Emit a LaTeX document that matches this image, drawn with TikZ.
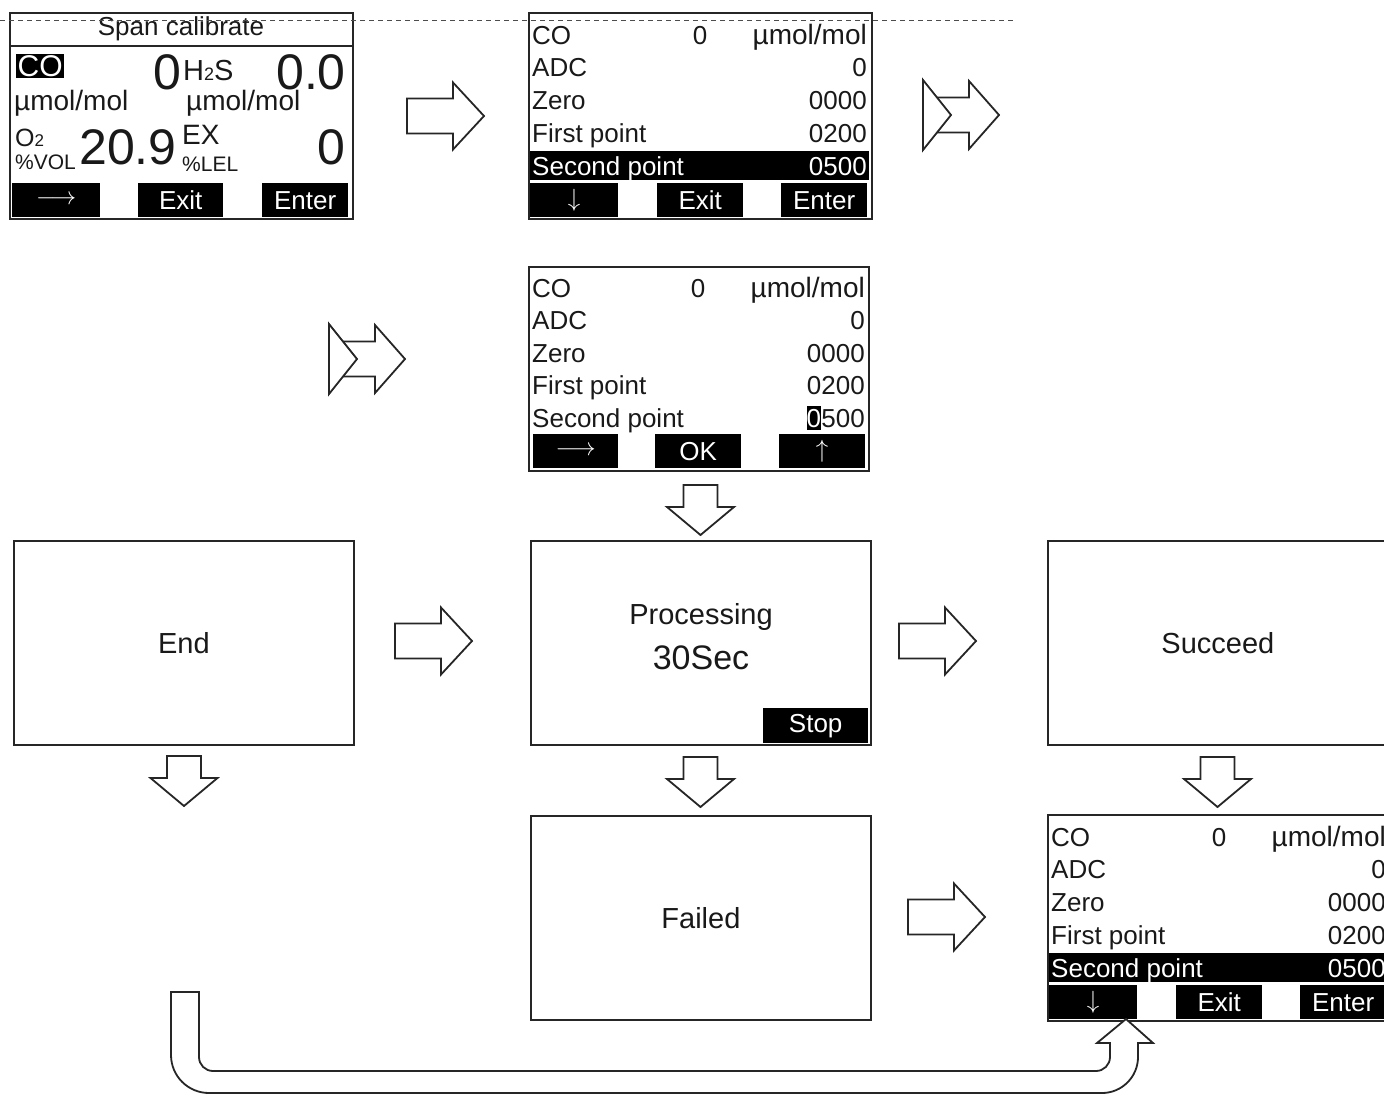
\documentclass[tikz,border=0pt]{standalone}
\usepackage{fontspec}
\setmainfont{Liberation Sans}
\usetikzlibrary{positioning}

\begin{document}
\begin{tikzpicture}[x=1pt, y=-1pt,
  frame/.style={draw=black!85, line width=1.8pt, fill=white, inner sep=0pt, anchor=north west},
  key/.style={fill=black, text=white, inner sep=0pt, anchor=north west, minimum height=34, font=\fontsize{26}{28}\selectfont},
  row/.style={inner sep=0pt, text=black!90, font=\fontsize{26}{28}\selectfont},
  unit/.style={row, font=\fontsize{28}{30}\selectfont},
  big/.style={row, font=\fontsize{50}{54}\selectfont},
  small/.style={row, font=\fontsize{21}{23}\selectfont},
  msg/.style={frame, minimum width=340, minimum height=204, text=black!90, font=\fontsize{29}{32}\selectfont},
  hollow/.style={draw=black!85, line width=1.8pt, fill=white}]
  \useasboundingbox (0,0) rectangle (1384,1095);
  \def\rightblock#1#2{\draw[hollow] (#1,#2-17.5) -- ++(46,0) -- ++(0,-16) -- ++(31,33.5) -- ++(-31,33.5) -- ++(0,-16) -- ++(-46,0) -- cycle;}
  \def\downblock#1#2{\draw[hollow] (#1-17,#2) -- ++(34,0) -- ++(0,22) -- ++(16.5,0) -- ++(-33.5,28) -- ++(-33.5,-28) -- ++(16.5,0) -- cycle;}
  \def\chevblock#1#2{%
    \draw[hollow] (#1+14,#2-17.5) -- ++(32,0) -- ++(0,-16.5) -- ++(30,34) -- ++(-30,34) -- ++(0,-16.5) -- ++(-32,0);
    \draw[hollow] (#1,#2-35) -- ++(28,35) -- ++(-28,35) -- cycle;}
  \def\longarr{{\fontsize{38}{38}\selectfont$\longrightarrow$}}
  \def\menuscreen{%
    \node[frame, minimum width=343, minimum height=206] (box) at (528,12) {};
    \node[row, anchor=base west] (co) at (532,44) {CO};
    \node[row, anchor=base] (conc) at (700,44) {0};
    \node[unit, anchor=base east] (unit) at (867,44) {µmol/mol};
    \node[row, anchor=base west] (adc) at (532,76) {ADC};
    \node[row, anchor=base east] (adcval) at (867,76) {0};
    \node[row, anchor=base west] (zero) at (532,109) {Zero};
    \node[row, anchor=base east] (zeroval) at (867,109) {0000};
    \node[row, anchor=base west] (first) at (532,142) {First point};
    \node[row, anchor=base east] (firstval) at (867,142) {0200};
    \node[key, minimum width=339, minimum height=29] (bar) at (530,151) {};
    \node[row, text=white, anchor=base west] (second) at (532,175) {Second point};
    \node[row, text=white, anchor=base east] (secondval) at (867,175) {0500};
    \node[key, minimum width=88, font=\fontsize{34}{34}\selectfont] (down) at (530,183) {$\downarrow$};
    \node[key, minimum width=86] (exit) at (657,183) {Exit};
    \node[key, minimum width=86] (enter) at (781,183) {Enter};}

  \node[frame, minimum width=343, minimum height=206] (span) at (9,12) {};
  \draw[draw=black!85, line width=1.8pt] (9,46) -- (352,46);
  \node[row, anchor=base] (title) at (181,35) {Span calibrate};
  \node[row, font=\fontsize{30}{30}\selectfont, fill=black, text=white, inner sep=1.5pt, anchor=base west] (coinv) at (16,76) {CO};
  \node[big, anchor=base east] (coval) at (182,89) {0};
  \node[unit, font=\fontsize{29}{30}\selectfont, anchor=base west] (h2s) at (183,80) {H{\fontsize{18}{18}\selectfont 2}S};
  \node[big, anchor=base east] (h2sval) at (346,89) {0.0};
  \node[unit, anchor=base west] (counit) at (14,110) {µmol/mol};
  \node[unit, anchor=base west] (h2sunit) at (186,110) {µmol/mol};
  \node[row, font=\fontsize{25}{26}\selectfont, anchor=base west] (o2) at (15,146) {O{\fontsize{17}{17}\selectfont 2}};
  \node[small, anchor=base west] (vol) at (15,169) {\%VOL};
  \node[big, anchor=base west] (o2val) at (79,164) {20.9};
  \node[unit, anchor=base west] (ex) at (182,144) {EX};
  \node[small, anchor=base west] (lel) at (182,171) {\%LEL};
  \node[big, anchor=base east] (exval) at (346,164) {0};
  \node[key, minimum width=88] (sright) at (12,183) {\longarr};
  \node[key, minimum width=85] (sexit) at (138,183) {Exit};
  \node[key, minimum width=86] (senter) at (262,183) {Enter};

  \begin{scope}[name prefix=top-]
    \menuscreen
  \end{scope}

  \node[frame, minimum width=340, minimum height=204] (edit) at (528,266) {};
  \node[row, anchor=base west] (eco) at (532,297) {CO};
  \node[row, anchor=base] (econc) at (698,297) {0};
  \node[unit, anchor=base east] (eunit) at (865,297) {µmol/mol};
  \node[row, anchor=base west] (eadc) at (532,329) {ADC};
  \node[row, anchor=base east] (eadcval) at (865,329) {0};
  \node[row, anchor=base west] (ezero) at (532,362) {Zero};
  \node[row, anchor=base east] (ezeroval) at (865,362) {0000};
  \node[row, anchor=base west] (efirst) at (532,394) {First point};
  \node[row, anchor=base east] (efirstval) at (865,394) {0200};
  \node[row, anchor=base west] (esecond) at (532,427) {Second point};
  \node[row, anchor=base east] (esecondval) at (865,427) {500};
  \node[row, fill=black, text=white, inner xsep=0pt, inner ysep=2.5pt, base left=0pt of esecondval] (cursor) {0};
  \node[key, minimum width=85] (eright) at (533,434) {\longarr};
  \node[key, minimum width=86] (eok) at (655,434) {OK};
  \node[key, minimum width=86, font=\fontsize{34}{34}\selectfont] (eup) at (779,434) {$\uparrow$};

  \node[msg] (endbox) at (13,540) {End};
  \node[frame, minimum width=340, minimum height=204] (proc) at (530,540) {};
  \node[row, anchor=base, font=\fontsize{29}{32}\selectfont] (proctxt) at (701,624) {Processing};
  \node[row, anchor=base, font=\fontsize{34}{36}\selectfont] (proctime) at (701,669) {30Sec};
  \node[key, minimum width=105, minimum height=35] (stop) at (763,708) {Stop};
  \node[msg] (succ) at (1047,540) {Succeed};
  \node[msg] (fail) at (530,815) {Failed};

  \begin{scope}[shift={(519,802)}, name prefix=low-]
    \menuscreen
  \end{scope}

  \rightblock{407}{116}
  \chevblock{923}{115}
  \chevblock{329}{359}
  \downblock{700.5}{485}
  \rightblock{395}{641}
  \rightblock{899}{641}
  \downblock{184}{756}
  \downblock{700.5}{757}
  \downblock{1217.5}{757}
  \rightblock{908}{917}

  \draw[hollow] (171,992) -- (199,992) -- (199,1057) arc[start angle=180, end angle=90, radius=14]
    -- (1096,1071) arc[start angle=90, end angle=0, radius=14] -- (1110,1043) -- (1097,1043)
    -- (1126,1019) -- (1153,1043) -- (1138,1043) -- (1138,1057) arc[start angle=0, end angle=90, radius=36]
    -- (209,1093) arc[start angle=90, end angle=180, radius=38] -- cycle;

  \draw[black!70, line width=1pt, dash pattern=on 5pt off 4pt] (0,20) -- (1015,20);
\end{tikzpicture}
\end{document}
